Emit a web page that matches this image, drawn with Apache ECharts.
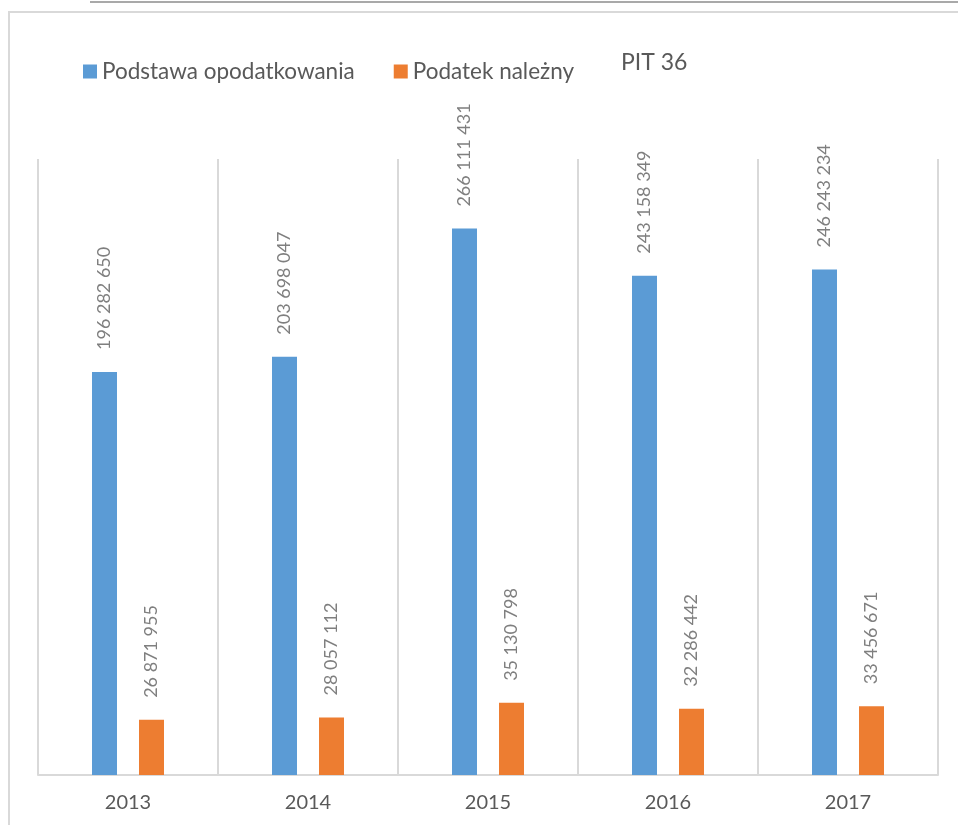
<!DOCTYPE html>
<html>
<head>
<meta charset="utf-8">
<script src="https://cdn.jsdelivr.net/npm/echarts@6/dist/echarts.min.js"></script>
<style>
html,body{margin:0;padding:0;background:#fff;}
#c{width:958px;height:825px;}
</style>
</head>
<body>
<div id="c"></div>
<script>
const categories = ['2013', '2014', '2015', '2016', '2017'];
const podstawa = [196282650, 203698047, 266111431, 243158349, 246243234];
const podatek = [26871955, 28057112, 35130798, 32286442, 33456671];
const seriesNames = ['Podstawa opodatkowania', 'Podatek należny'];
const titleText = 'PIT 36';

function fmt(v) {
  return String(v).replace(/\B(?=(\d{3})+(?!\d))/g, ' ');
}

const chart = echarts.init(document.getElementById('c'), null, {renderer: 'canvas'});
const labelCfg = {
  show: true,
  position: 'top',
  rotate: 90,
  align: 'left',
  verticalAlign: 'middle',
  distance: 22,
  color: '#7f7f7f',
  fontSize: 18,
  fontFamily: 'Lato',
  formatter: p => fmt(p.value)
};
chart.setOption({
  animation: false,
  backgroundColor: '#fff',
  title: {
    text: titleText,
    left: 621,
    top: 51,
    padding: 0,
    textStyle: {color: '#595959', fontSize: 23, fontWeight: 'normal', fontFamily: 'Lato'}
  },
  legend: {
    left: 83,
    top: 60,
    padding: 0,
    itemWidth: 14,
    itemHeight: 14,
    itemGap: 39,
    icon: 'rect',
    textStyle: {color: '#595959', fontSize: 22.5, fontFamily: 'Lato'},
    data: seriesNames
  },
  grid: {left: 38, right: 20, top: 159, bottom: 50, containLabel: false},
  xAxis: {
    type: 'category',
    data: categories,
    axisLine: {show: true, lineStyle: {color: '#d9d9d9', width: 2}},
    axisTick: {show: false},
    splitLine: {show: true, lineStyle: {color: '#d9d9d9', width: 2}},
    axisLabel: {color: '#595959', fontSize: 20, fontFamily: 'Lato', margin: 18}
  },
  yAxis: {
    type: 'value',
    min: 0,
    max: 300000000,
    show: false,
    splitLine: {show: false}
  },
  graphic: [
    {type: 'line', shape: {x1: 90, y1: 2, x2: 958, y2: 2}, style: {stroke: '#8c8c8c', lineWidth: 1.5}},
    {type: 'rect', shape: {x: 9, y: 12, width: 970, height: 830}, style: {fill: 'none', stroke: '#d9d9d9', lineWidth: 2}}
  ],
  series: [
    {
      name: seriesNames[0],
      type: 'bar',
      data: podstawa,
      barWidth: 25,
      barGap: '88%',
      itemStyle: {color: '#5b9bd5'},
      label: labelCfg
    },
    {
      name: seriesNames[1],
      type: 'bar',
      data: podatek,
      barWidth: 25,
      barGap: '88%',
      itemStyle: {color: '#ed7d31'},
      label: labelCfg
    }
  ]
});
</script>
</body>
</html>
